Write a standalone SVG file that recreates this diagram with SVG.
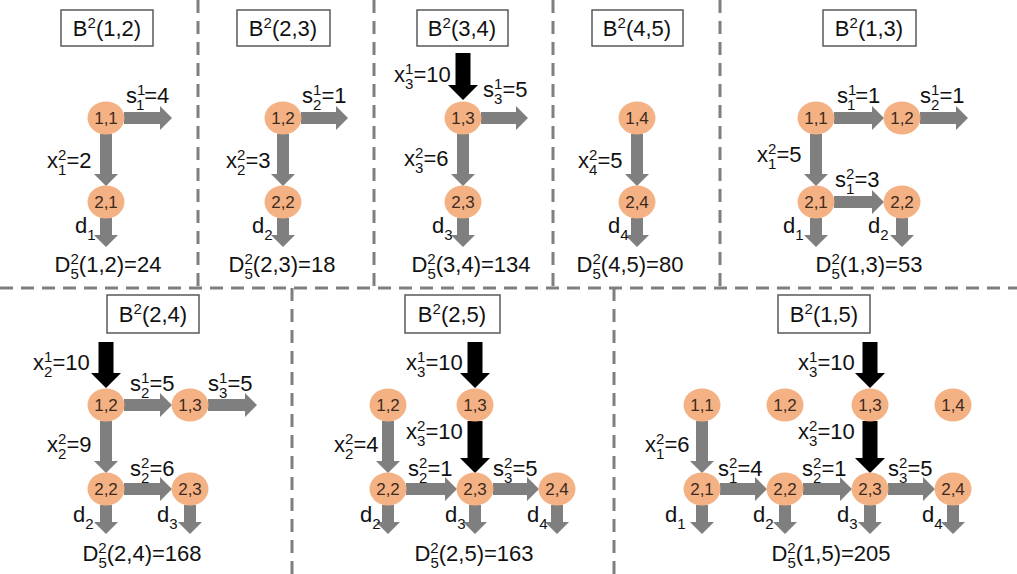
<svg xmlns="http://www.w3.org/2000/svg" width="1017" height="574" viewBox="0 0 1017 574">
<style>
.t{font-family:"Liberation Sans",Arial,sans-serif;font-size:22px;fill:#111}
.c{text-anchor:middle}
.u{font-size:15px}
.nd ellipse{fill:#F4B183}
.nd text{font-family:"Liberation Sans",Arial,sans-serif;font-size:17px;fill:#3d2b1f;text-anchor:middle}
.ga{fill:#7F7F7F}
.ba{fill:#000}
.dv{stroke:#7F7F7F;stroke-width:3;stroke-dasharray:13 8;fill:none}
.bx rect{fill:#fff;stroke:#595959;stroke-width:1.5}
</style>
<rect width="1017" height="574" fill="#fff"/>
<g id="dividers">
<path class="dv" d="M0,288H1017"/>
<path class="dv" d="M198,0V288M374,0V288M553,0V288M720,0V288"/>
<path class="dv" d="M292,288V574M614,288V574"/>
</g>
<g id="boxes">
<g id="box-12" class="bx"><rect x="61" y="10" width="92" height="36"/><text class="t c" x="107" y="36">B<tspan class="u" dy="-8">2</tspan><tspan dy="8">(1,2)</tspan></text></g>
<g id="box-23" class="bx"><rect x="237" y="10" width="93" height="36"/><text class="t c" x="283" y="36">B<tspan class="u" dy="-8">2</tspan><tspan dy="8">(2,3)</tspan></text></g>
<g id="box-34" class="bx"><rect x="417" y="10" width="91" height="36"/><text class="t c" x="462" y="36">B<tspan class="u" dy="-8">2</tspan><tspan dy="8">(3,4)</tspan></text></g>
<g id="box-45" class="bx"><rect x="592" y="10" width="91" height="36"/><text class="t c" x="637" y="36">B<tspan class="u" dy="-8">2</tspan><tspan dy="8">(4,5)</tspan></text></g>
<g id="box-13" class="bx"><rect x="823" y="10" width="93" height="36"/><text class="t c" x="869" y="36">B<tspan class="u" dy="-8">2</tspan><tspan dy="8">(1,3)</tspan></text></g>
<g id="box-24" class="bx"><rect x="107" y="295" width="92" height="38"/><text class="t c" x="153" y="322">B<tspan class="u" dy="-8">2</tspan><tspan dy="8">(2,4)</tspan></text></g>
<g id="box-25" class="bx"><rect x="405" y="295" width="95" height="38"/><text class="t c" x="452" y="322">B<tspan class="u" dy="-8">2</tspan><tspan dy="8">(2,5)</tspan></text></g>
<g id="box-15" class="bx"><rect x="778" y="295" width="92" height="38"/><text class="t c" x="824" y="322">B<tspan class="u" dy="-8">2</tspan><tspan dy="8">(1,5)</tspan></text></g>
</g>
<g id="connectors">
<path class="ga" d="M124,112H160V106L172,118L160,130V124H124Z"/>
<path class="ga" d="M100,134V174H94L106,186L118,174H112V134Z"/>
<path class="ga" d="M100,218V235H94L106,247L118,235H112V218Z"/>
<path class="ga" d="M301,112H336V106L348,118L336,130V124H301Z"/>
<path class="ga" d="M277,134V174H271L283,186L295,174H289V134Z"/>
<path class="ga" d="M277,218V235H271L283,247L295,235H289V218Z"/>
<path class="ba" d="M455.5,53V85H448L463,100L478,85H470.5V53Z"/>
<path class="ga" d="M481,112H516V106L528,118L516,130V124H481Z"/>
<path class="ga" d="M457,134V174H451L463,186L475,174H469V134Z"/>
<path class="ga" d="M457,218V235H451L463,247L475,235H469V218Z"/>
<path class="ga" d="M631,134V174H625L637,186L649,174H643V134Z"/>
<path class="ga" d="M631,218V235H625L637,247L649,235H643V218Z"/>
<path class="ga" d="M834,112H872V106L884,118L872,130V124H834Z"/>
<path class="ga" d="M920,112H956V106L968,118L956,130V124H920Z"/>
<path class="ga" d="M810,134V174H804L816,186L828,174H822V134Z"/>
<path class="ga" d="M834,196H872V190L884,202L872,214V208H834Z"/>
<path class="ga" d="M810,218V235H804L816,247L828,235H822V218Z"/>
<path class="ga" d="M896,218V235H890L902,247L914,235H908V218Z"/>
<path class="ba" d="M98.5,342V373H91L106,388L121,373H113.5V342Z"/>
<path class="ga" d="M124,399H160V393L172,405L160,417V411H124Z"/>
<path class="ga" d="M208,399H245V393L257,405L245,417V411H208Z"/>
<path class="ga" d="M100,421V461H94L106,473L118,461H112V421Z"/>
<path class="ga" d="M124,483H160V477L172,489L160,501V495H124Z"/>
<path class="ga" d="M100,505V522H94L106,534L118,522H112V505Z"/>
<path class="ga" d="M184,505V522H178L190,534L202,522H196V505Z"/>
<path class="ba" d="M467.5,342V373H460L475,388L490,373H482.5V342Z"/>
<path class="ba" d="M467.5,421V458H460L475,473L490,458H482.5V421Z"/>
<path class="ga" d="M382,421V461H376L388,473L400,461H394V421Z"/>
<path class="ga" d="M406,483H445V477L457,489L445,501V495H406Z"/>
<path class="ga" d="M493,483H527V477L539,489L527,501V495H493Z"/>
<path class="ga" d="M382,505V522H376L388,534L400,522H394V505Z"/>
<path class="ga" d="M469,505V522H463L475,534L487,522H481V505Z"/>
<path class="ga" d="M551,505V522H545L557,534L569,522H563V505Z"/>
<path class="ba" d="M862.5,342V373H855L870,388L885,373H877.5V342Z"/>
<path class="ba" d="M862.5,421V458H855L870,473L885,458H877.5V421Z"/>
<path class="ga" d="M696,421V461H690L702,473L714,461H708V421Z"/>
<path class="ga" d="M720,483H755V477L767,489L755,501V495H720Z"/>
<path class="ga" d="M803,483H840V477L852,489L840,501V495H803Z"/>
<path class="ga" d="M888,483H923V477L935,489L923,501V495H888Z"/>
<path class="ga" d="M696,505V522H690L702,534L714,522H708V505Z"/>
<path class="ga" d="M779,505V522H773L785,534L797,522H791V505Z"/>
<path class="ga" d="M864,505V522H858L870,534L882,522H876V505Z"/>
<path class="ga" d="M947,505V522H941L953,534L965,522H959V505Z"/>
</g>
<g id="nodes">
<g id="p1-n11" class="nd"><ellipse cx="106" cy="118" rx="18.5" ry="16.5"/><text x="106" y="124">1,1</text></g>
<g id="p1-n21" class="nd"><ellipse cx="106" cy="202" rx="18.5" ry="16.5"/><text x="106" y="208">2,1</text></g>
<g id="p2-n12" class="nd"><ellipse cx="283" cy="118" rx="18.5" ry="16.5"/><text x="283" y="124">1,2</text></g>
<g id="p2-n22" class="nd"><ellipse cx="283" cy="202" rx="18.5" ry="16.5"/><text x="283" y="208">2,2</text></g>
<g id="p3-n13" class="nd"><ellipse cx="463" cy="118" rx="18.5" ry="16.5"/><text x="463" y="124">1,3</text></g>
<g id="p3-n23" class="nd"><ellipse cx="463" cy="202" rx="18.5" ry="16.5"/><text x="463" y="208">2,3</text></g>
<g id="p4-n14" class="nd"><ellipse cx="637" cy="118" rx="18.5" ry="16.5"/><text x="637" y="124">1,4</text></g>
<g id="p4-n24" class="nd"><ellipse cx="637" cy="202" rx="18.5" ry="16.5"/><text x="637" y="208">2,4</text></g>
<g id="p5-n11" class="nd"><ellipse cx="816" cy="118" rx="18.5" ry="16.5"/><text x="816" y="124">1,1</text></g>
<g id="p5-n12" class="nd"><ellipse cx="902" cy="118" rx="18.5" ry="16.5"/><text x="902" y="124">1,2</text></g>
<g id="p5-n21" class="nd"><ellipse cx="816" cy="202" rx="18.5" ry="16.5"/><text x="816" y="208">2,1</text></g>
<g id="p5-n22" class="nd"><ellipse cx="902" cy="202" rx="18.5" ry="16.5"/><text x="902" y="208">2,2</text></g>
<g id="p6-n12" class="nd"><ellipse cx="106" cy="405" rx="18.5" ry="16.5"/><text x="106" y="411">1,2</text></g>
<g id="p6-n13" class="nd"><ellipse cx="190" cy="405" rx="18.5" ry="16.5"/><text x="190" y="411">1,3</text></g>
<g id="p6-n22" class="nd"><ellipse cx="106" cy="489" rx="18.5" ry="16.5"/><text x="106" y="495">2,2</text></g>
<g id="p6-n23" class="nd"><ellipse cx="190" cy="489" rx="18.5" ry="16.5"/><text x="190" y="495">2,3</text></g>
<g id="p7-n12" class="nd"><ellipse cx="388" cy="405" rx="18.5" ry="16.5"/><text x="388" y="411">1,2</text></g>
<g id="p7-n13" class="nd"><ellipse cx="475" cy="405" rx="18.5" ry="16.5"/><text x="475" y="411">1,3</text></g>
<g id="p7-n22" class="nd"><ellipse cx="388" cy="489" rx="18.5" ry="16.5"/><text x="388" y="495">2,2</text></g>
<g id="p7-n23" class="nd"><ellipse cx="475" cy="489" rx="18.5" ry="16.5"/><text x="475" y="495">2,3</text></g>
<g id="p7-n24" class="nd"><ellipse cx="557" cy="489" rx="18.5" ry="16.5"/><text x="557" y="495">2,4</text></g>
<g id="p8-n11" class="nd"><ellipse cx="702" cy="405" rx="18.5" ry="16.5"/><text x="702" y="411">1,1</text></g>
<g id="p8-n12" class="nd"><ellipse cx="785" cy="405" rx="18.5" ry="16.5"/><text x="785" y="411">1,2</text></g>
<g id="p8-n13" class="nd"><ellipse cx="870" cy="405" rx="18.5" ry="16.5"/><text x="870" y="411">1,3</text></g>
<g id="p8-n14" class="nd"><ellipse cx="953" cy="405" rx="18.5" ry="16.5"/><text x="953" y="411">1,4</text></g>
<g id="p8-n21" class="nd"><ellipse cx="702" cy="489" rx="18.5" ry="16.5"/><text x="702" y="495">2,1</text></g>
<g id="p8-n22" class="nd"><ellipse cx="785" cy="489" rx="18.5" ry="16.5"/><text x="785" y="495">2,2</text></g>
<g id="p8-n23" class="nd"><ellipse cx="870" cy="489" rx="18.5" ry="16.5"/><text x="870" y="495">2,3</text></g>
<g id="p8-n24" class="nd"><ellipse cx="953" cy="489" rx="18.5" ry="16.5"/><text x="953" y="495">2,4</text></g>
</g>
<g id="labels">
<text class="t" x="126" y="103">s<tspan class="u" dy="-8">1</tspan><tspan class="u" dx="-8.3" dy="15">1</tspan><tspan dy="-7">=4</tspan></text>
<text class="t" x="47" y="168">x<tspan class="u" dy="-8">2</tspan><tspan class="u" dx="-8.3" dy="15">1</tspan><tspan dy="-7">=2</tspan></text>
<text class="t" x="75" y="233">d<tspan class="u" dy="7">1</tspan></text>
<text class="t c" x="108" y="272">D<tspan class="u" dy="-8">2</tspan><tspan class="u" dx="-8.3" dy="15">5</tspan><tspan dy="-7">(1,2)=24</tspan></text>
<text class="t" x="302" y="103">s<tspan class="u" dy="-8">1</tspan><tspan class="u" dx="-8.3" dy="15">2</tspan><tspan dy="-7">=1</tspan></text>
<text class="t" x="226" y="168">x<tspan class="u" dy="-8">2</tspan><tspan class="u" dx="-8.3" dy="15">2</tspan><tspan dy="-7">=3</tspan></text>
<text class="t" x="252" y="233">d<tspan class="u" dy="7">2</tspan></text>
<text class="t c" x="282" y="272">D<tspan class="u" dy="-8">2</tspan><tspan class="u" dx="-8.3" dy="15">5</tspan><tspan dy="-7">(2,3)=18</tspan></text>
<text class="t" x="394" y="82">x<tspan class="u" dy="-8">1</tspan><tspan class="u" dx="-8.3" dy="15">3</tspan><tspan dy="-7">=10</tspan></text>
<text class="t" x="483" y="97">s<tspan class="u" dy="-8">1</tspan><tspan class="u" dx="-8.3" dy="15">3</tspan><tspan dy="-7">=5</tspan></text>
<text class="t" x="404" y="166">x<tspan class="u" dy="-8">2</tspan><tspan class="u" dx="-8.3" dy="15">3</tspan><tspan dy="-7">=6</tspan></text>
<text class="t" x="432" y="233">d<tspan class="u" dy="7">3</tspan></text>
<text class="t c" x="471" y="272">D<tspan class="u" dy="-8">2</tspan><tspan class="u" dx="-8.3" dy="15">5</tspan><tspan dy="-7">(3,4)=134</tspan></text>
<text class="t" x="578" y="168">x<tspan class="u" dy="-8">2</tspan><tspan class="u" dx="-8.3" dy="15">4</tspan><tspan dy="-7">=5</tspan></text>
<text class="t" x="608" y="233">d<tspan class="u" dy="7">4</tspan></text>
<text class="t c" x="630" y="272">D<tspan class="u" dy="-8">2</tspan><tspan class="u" dx="-8.3" dy="15">5</tspan><tspan dy="-7">(4,5)=80</tspan></text>
<text class="t" x="837" y="103">s<tspan class="u" dy="-8">1</tspan><tspan class="u" dx="-8.3" dy="15">1</tspan><tspan dy="-7">=1</tspan></text>
<text class="t" x="920" y="103">s<tspan class="u" dy="-8">1</tspan><tspan class="u" dx="-8.3" dy="15">2</tspan><tspan dy="-7">=1</tspan></text>
<text class="t" x="757" y="162">x<tspan class="u" dy="-8">2</tspan><tspan class="u" dx="-8.3" dy="15">1</tspan><tspan dy="-7">=5</tspan></text>
<text class="t" x="835" y="187">s<tspan class="u" dy="-8">2</tspan><tspan class="u" dx="-8.3" dy="15">1</tspan><tspan dy="-7">=3</tspan></text>
<text class="t" x="783" y="233">d<tspan class="u" dy="7">1</tspan></text>
<text class="t" x="868" y="233">d<tspan class="u" dy="7">2</tspan></text>
<text class="t c" x="869" y="272">D<tspan class="u" dy="-8">2</tspan><tspan class="u" dx="-8.3" dy="15">5</tspan><tspan dy="-7">(1,3)=53</tspan></text>
<text class="t" x="33" y="370">x<tspan class="u" dy="-8">1</tspan><tspan class="u" dx="-8.3" dy="15">2</tspan><tspan dy="-7">=10</tspan></text>
<text class="t" x="130" y="391">s<tspan class="u" dy="-8">1</tspan><tspan class="u" dx="-8.3" dy="15">2</tspan><tspan dy="-7">=5</tspan></text>
<text class="t" x="208" y="391">s<tspan class="u" dy="-8">1</tspan><tspan class="u" dx="-8.3" dy="15">3</tspan><tspan dy="-7">=5</tspan></text>
<text class="t" x="47" y="452">x<tspan class="u" dy="-8">2</tspan><tspan class="u" dx="-8.3" dy="15">2</tspan><tspan dy="-7">=9</tspan></text>
<text class="t" x="130" y="476">s<tspan class="u" dy="-8">2</tspan><tspan class="u" dx="-8.3" dy="15">2</tspan><tspan dy="-7">=6</tspan></text>
<text class="t" x="73" y="522">d<tspan class="u" dy="7">2</tspan></text>
<text class="t" x="157" y="522">d<tspan class="u" dy="7">3</tspan></text>
<text class="t c" x="142" y="561">D<tspan class="u" dy="-8">2</tspan><tspan class="u" dx="-8.3" dy="15">5</tspan><tspan dy="-7">(2,4)=168</tspan></text>
<text class="t" x="406" y="370">x<tspan class="u" dy="-8">1</tspan><tspan class="u" dx="-8.3" dy="15">3</tspan><tspan dy="-7">=10</tspan></text>
<text class="t" x="334" y="452">x<tspan class="u" dy="-8">2</tspan><tspan class="u" dx="-8.3" dy="15">2</tspan><tspan dy="-7">=4</tspan></text>
<text class="t" x="406" y="439">x<tspan class="u" dy="-8">2</tspan><tspan class="u" dx="-8.3" dy="15">3</tspan><tspan dy="-7">=10</tspan></text>
<text class="t" x="408" y="476">s<tspan class="u" dy="-8">2</tspan><tspan class="u" dx="-8.3" dy="15">2</tspan><tspan dy="-7">=1</tspan></text>
<text class="t" x="493" y="476">s<tspan class="u" dy="-8">2</tspan><tspan class="u" dx="-8.3" dy="15">3</tspan><tspan dy="-7">=5</tspan></text>
<text class="t" x="360" y="522">d<tspan class="u" dy="7">2</tspan></text>
<text class="t" x="445" y="522">d<tspan class="u" dy="7">3</tspan></text>
<text class="t" x="527" y="522">d<tspan class="u" dy="7">4</tspan></text>
<text class="t c" x="474" y="561">D<tspan class="u" dy="-8">2</tspan><tspan class="u" dx="-8.3" dy="15">5</tspan><tspan dy="-7">(2,5)=163</tspan></text>
<text class="t" x="798" y="370">x<tspan class="u" dy="-8">1</tspan><tspan class="u" dx="-8.3" dy="15">3</tspan><tspan dy="-7">=10</tspan></text>
<text class="t" x="645" y="452">x<tspan class="u" dy="-8">2</tspan><tspan class="u" dx="-8.3" dy="15">1</tspan><tspan dy="-7">=6</tspan></text>
<text class="t" x="798" y="439">x<tspan class="u" dy="-8">2</tspan><tspan class="u" dx="-8.3" dy="15">3</tspan><tspan dy="-7">=10</tspan></text>
<text class="t" x="718" y="476">s<tspan class="u" dy="-8">2</tspan><tspan class="u" dx="-8.3" dy="15">1</tspan><tspan dy="-7">=4</tspan></text>
<text class="t" x="802" y="476">s<tspan class="u" dy="-8">2</tspan><tspan class="u" dx="-8.3" dy="15">2</tspan><tspan dy="-7">=1</tspan></text>
<text class="t" x="888" y="476">s<tspan class="u" dy="-8">2</tspan><tspan class="u" dx="-8.3" dy="15">3</tspan><tspan dy="-7">=5</tspan></text>
<text class="t" x="665" y="522">d<tspan class="u" dy="7">1</tspan></text>
<text class="t" x="753" y="522">d<tspan class="u" dy="7">2</tspan></text>
<text class="t" x="837" y="522">d<tspan class="u" dy="7">3</tspan></text>
<text class="t" x="922" y="522">d<tspan class="u" dy="7">4</tspan></text>
<text class="t c" x="831" y="561">D<tspan class="u" dy="-8">2</tspan><tspan class="u" dx="-8.3" dy="15">5</tspan><tspan dy="-7">(1,5)=205</tspan></text>
</g>
</svg>
